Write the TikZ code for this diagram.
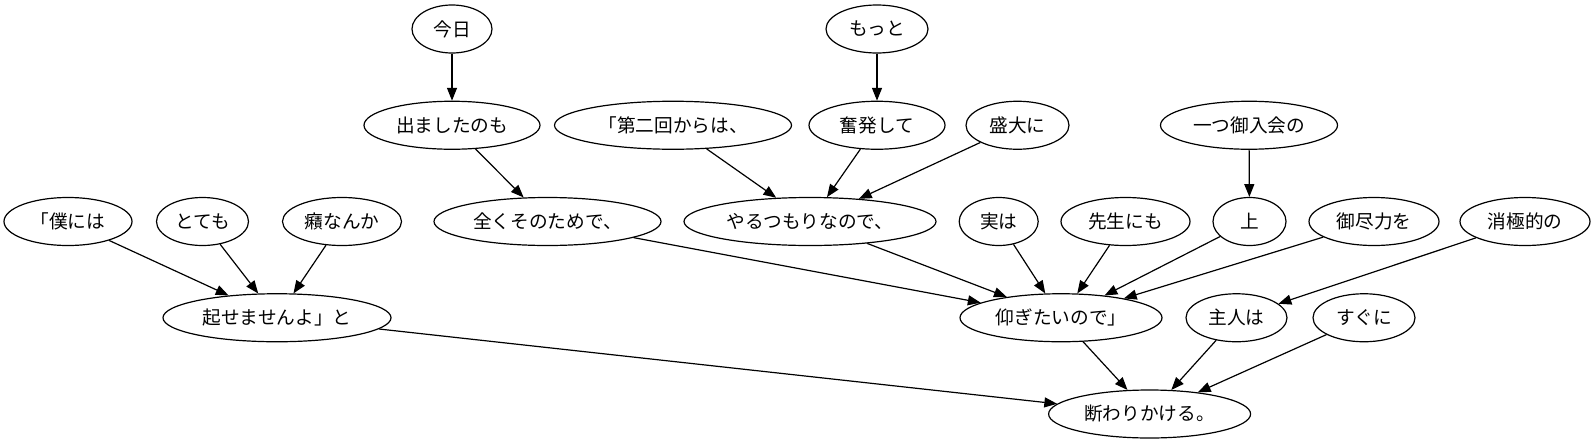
\documentclass[tikz,border=0pt]{standalone}
\usepackage{fontspec}
\setmainfont{Noto Sans CJK JP}
\usetikzlibrary{shapes.geometric,arrows.meta}
\begin{document}
\begin{tikzpicture}[x=0.75pt,y=-0.75pt,
  nd/.style={ellipse, draw, line width=0.9pt, inner sep=0pt,
     minimum height=36pt, minimum width=#1*0.75pt,
     font=\fontsize{14pt}{16pt}\selectfont},
  edge/.style={draw, line width=0.9pt, -{Triangle[length=9.6pt,width=7.5pt]}}]
\useasboundingbox (0,0) rectangle (1595,443);
% rank 1
\node[nd=80]  (kyou)   at (452,29)    {今日};
\node[nd=102] (motto)  at (877,29)    {もっと};
% rank 2
\node[nd=176] (demashi) at (452,125.25) {出ましたのも};
\node[nd=237] (daini)   at (673,125.25) {「第二回からは、};
\node[nd=136] (funpatsu) at (877,125.25) {奮発して};
\node[nd=103] (seidai)  at (1017.5,125.25) {盛大に};
\node[nd=177] (hitotsu) at (1249,125.25) {一つ御入会の};
% rank 3
\node[nd=128] (boku)    at (68,221.5)   {「僕には};
\node[nd=92]  (totemo)  at (202.5,221.5) {とても};
\node[nd=119] (shaku)   at (342,221.5)  {癪なんか};
\node[nd=227] (mattaku) at (547.5,221.5) {全くそのためで、};
\node[nd=252] (yaru)    at (810,221.5)  {やるつもりなので、};
\node[nd=79]  (jitsu)   at (998.7,221.5) {実は};
\node[nd=129] (sensei)  at (1125.5,221.5) {先生にも};
\node[nd=73]  (ue)      at (1249.5,221.5) {上};
\node[nd=130] (gojin)   at (1374,221.5) {御尽力を};
\node[nd=130] (shoukyoku) at (1525,221.5) {消極的の};
% rank 4
\node[nd=228] (okose)   at (277,317.75) {起せませんよ」と};
\node[nd=202] (aogi)    at (1061,317.75) {仰ぎたいので」};
\node[nd=101] (shujin)  at (1236.5,317.75) {主人は};
\node[nd=102] (sugu)    at (1364,317.75) {すぐに};
% rank 5
\node[nd=202] (kotowari) at (1149.6,414) {断わりかける。};
% edges
\draw[edge] (kyou) -- (demashi);
\draw[edge] (demashi) -- (mattaku);
\draw[edge] (motto) -- (funpatsu);
\draw[edge] (daini) -- (yaru);
\draw[edge] (funpatsu) -- (yaru);
\draw[edge] (seidai) -- (yaru);
\draw[edge] (hitotsu) -- (ue);
\draw[edge] (boku) -- (okose);
\draw[edge] (totemo) -- (okose);
\draw[edge] (shaku) -- (okose);
\draw[edge] (mattaku) -- (aogi);
\draw[edge] (yaru) -- (aogi);
\draw[edge] (jitsu) -- (aogi);
\draw[edge] (sensei) -- (aogi);
\draw[edge] (ue) -- (aogi);
\draw[edge] (gojin) -- (aogi);
\draw[edge] (shoukyoku) -- (shujin);
\draw[edge] (okose) -- (kotowari);
\draw[edge] (aogi) -- (kotowari);
\draw[edge] (shujin) -- (kotowari);
\draw[edge] (sugu) -- (kotowari);
\end{tikzpicture}
\end{document}
